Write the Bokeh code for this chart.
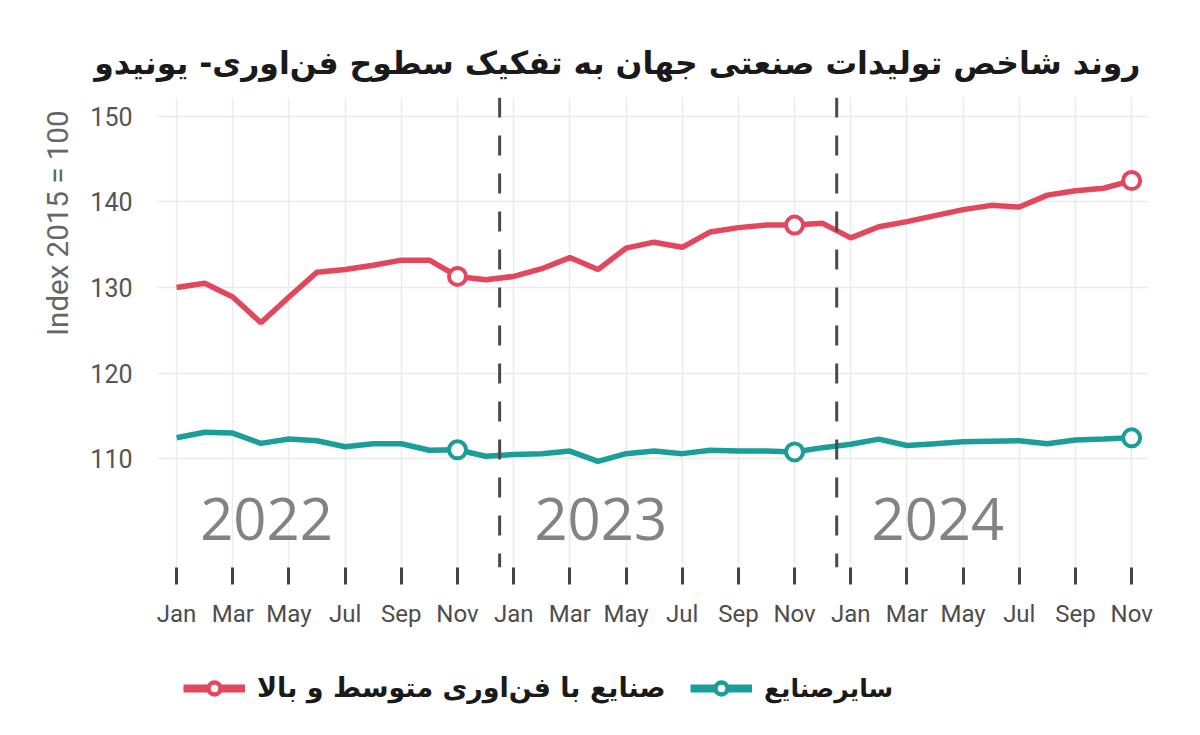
from bokeh.plotting import figure
from bokeh.layouts import column
from bokeh.models import FixedTicker, Span, Legend, LegendItem, Title
from bokeh.core.properties import value
from bokeh.embed import file_html
from bokeh.resources import INLINE

# ماه‌ها: ژانویه ۲۰۲۲ تا نوامبر ۲۰۲۴
mahha = ["Jan", "Feb", "Mar", "Apr", "May", "Jun", "Jul", "Aug", "Sep", "Oct", "Nov", "Dec",
         "Jan", "Feb", "Mar", "Apr", "May", "Jun", "Jul", "Aug", "Sep", "Oct", "Nov", "Dec",
         "Jan", "Feb", "Mar", "Apr", "May", "Jun", "Jul", "Aug", "Sep", "Oct", "Nov"]

fanavari_bala = [130.0, 130.5, 128.9, 125.9, 128.9, 131.8, 132.1, 132.6, 133.2, 133.2, 131.3, 130.9,
                 131.3, 132.2, 133.5, 132.1, 134.6, 135.3, 134.7, 136.5, 137.0, 137.3, 137.3, 137.5,
                 135.8, 137.1, 137.7, 138.4, 139.1, 139.6, 139.4, 140.8, 141.3, 141.6, 142.5]

sayer_sanaye = [112.45, 113.1, 113.0, 111.8, 112.3, 112.1, 111.4, 111.75, 111.75, 111.0, 111.05, 110.3,
                110.5, 110.6, 110.9, 109.7, 110.6, 110.9, 110.6, 111.0, 110.9, 110.9, 110.8, 111.3,
                111.7, 112.3, 111.55, 111.75, 112.0, 112.05, 112.1, 111.75, 112.2, 112.3, 112.45]

# نقاط نشانه‌دار (نوامبر هر سال)
nuqat = [10, 22, 34]

salha = ["2022", "2023", "2024"]
salha_x = [3.2, 15.1, 27.1]
salha_y = [103.0, 103.0, 103.0]

marz_sal = [11.5, 23.5]

titr = "روند شاخص تولیدات صنعتی جهان به تفکیک سطوح فن\u200cاوری- یونیدو"
onvan_1 = "صنایع با فن\u200cاوری متوسط و بالا"
onvan_2 = "سایرصنایع"
titr_y = "Index 2015 = 100"

qermez = "#e2475d"
firouzei = "#1b9d99"

x = list(range(len(mahha)))

grafico = figure(width=1184, height=656, x_range=(-0.68, 34.6), y_range=(97.3, 152.2),
                 output_backend="svg", toolbar_location=None,
                 min_border_left=157, min_border_right=36, min_border_top=97, min_border_bottom=89)
grafico.outline_line_color = None
grafico.background_fill_color = "white"

grafico.title.text = titr
grafico.title.align = "right"
grafico.title.text_font = "DejaVu Sans"
grafico.title.text_font_style = "bold"
grafico.title.text_font_size = "31.5px"
grafico.title.text_color = "#1a1a1a"
grafico.title.standoff = 33
grafico.title.offset = 8

ticks_x = list(range(0, len(mahha), 2))
grafico.xaxis.ticker = FixedTicker(ticks=ticks_x)
grafico.xaxis.major_label_overrides = {i: mahha[i] for i in ticks_x}
grafico.xaxis.axis_line_color = None
grafico.xaxis.major_tick_in = 0
grafico.xaxis.major_tick_out = 17
grafico.xaxis.major_tick_line_width = 3
grafico.xaxis.major_tick_line_color = "#444444"
grafico.xaxis.minor_tick_line_color = None
grafico.xaxis.major_label_standoff = 15
grafico.xaxis.major_label_text_font = "Roboto"
grafico.xaxis.major_label_text_font_size = "24px"
grafico.xaxis.major_label_text_color = "#4d4d4d"

grafico.yaxis.ticker = FixedTicker(ticks=[110, 120, 130, 140, 150])
grafico.yaxis.axis_line_color = None
grafico.yaxis.major_tick_line_color = None
grafico.yaxis.minor_tick_line_color = None
grafico.yaxis.major_label_standoff = 19
grafico.yaxis.major_label_text_font = "Roboto"
grafico.yaxis.major_label_text_font_size = "25px"
grafico.yaxis.major_label_text_color = "#555555"

# عنوان محور عمودی، چسبیده به بالای نمودار
onvan_mehvar = Title(text=titr_y, align="right", offset=13, standoff=25,
                     text_font="Roboto", text_font_style="normal",
                     text_font_size="29.5px", text_color="#666666")
grafico.add_layout(onvan_mehvar, "left")

grafico.grid.grid_line_color = "#ebebeb"
grafico.grid.grid_line_width = 1.5

for m in marz_sal:
    grafico.add_layout(Span(location=m, dimension="height", line_color="#4a4a4a",
                            line_width=3, line_dash="20 18"))

grafico.text(x=salha_x, y=salha_y, text=salha, text_font=value("Open Sans"),
             text_font_size="58px", text_color="#838383", text_align="center", text_baseline="middle")

grafico.line(x, fanavari_bala, line_width=5.5, color=qermez)
grafico.scatter([x[i] for i in nuqat], [fanavari_bala[i] for i in nuqat], size=17,
                fill_color="white", line_color=qermez, line_width=4)
grafico.line(x, sayer_sanaye, line_width=5.5, color=firouzei)
grafico.scatter([x[i] for i in nuqat], [sayer_sanaye[i] for i in nuqat], size=17,
                fill_color="white", line_color=firouzei, line_width=4)

# راهنما در یک شکل جداگانه زیر نمودار (نشانه‌ها بیرون از بازه، فقط برای نماد راهنما)
rahnama = figure(width=1184, height=63, x_range=(0, 1), y_range=(0, 1),
                 output_backend="svg", toolbar_location=None, x_axis_type=None, y_axis_type=None,
                 min_border_left=157, min_border_right=36, min_border_top=0, min_border_bottom=0)
rahnama.outline_line_color = None
rahnama.grid.visible = False

def ghalam(onvan, rang, makan, andaze):
    k = rahnama.line([-5, -4], [-5, -5], line_width=8, color=rang)
    n = rahnama.scatter([-5], [-5], size=19, fill_color="white", line_color=rang, line_width=4.5)
    legenda = Legend(items=[LegendItem(label=onvan, renderers=[k, n])], location=makan,
                     orientation="horizontal", glyph_width=62, glyph_height=30, label_standoff=12,
                     label_text_font="DejaVu Sans", label_text_font_style="bold",
                     label_text_font_size=andaze, label_text_color="#1a1a1a",
                     background_fill_alpha=0, border_line_alpha=0, padding=0, margin=0)
    rahnama.add_layout(legenda)

ghalam(onvan_1, qermez, (26, 16), "27px")
ghalam(onvan_2, firouzei, (533, 16), "25px")

open("out.html", "w").write(file_html(column(grafico, rahnama), INLINE))
